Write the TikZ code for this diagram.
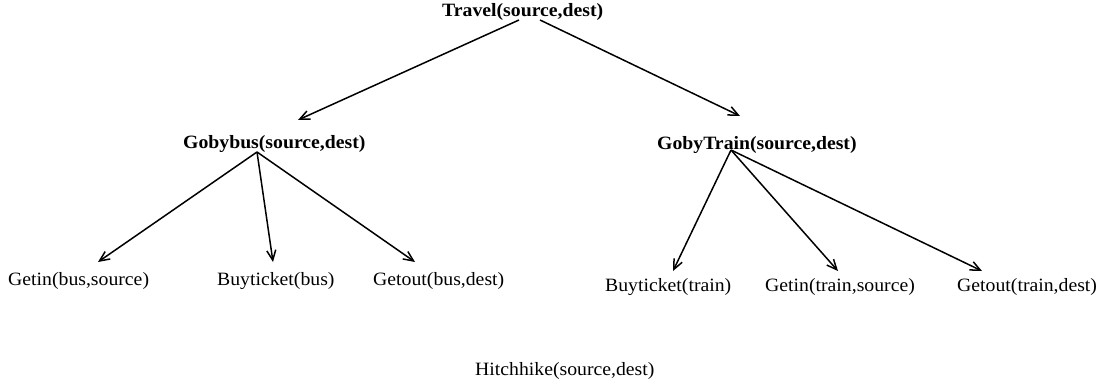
\documentclass[tikz,border=0pt]{standalone}
\usepackage{fontspec}
\setmainfont{Liberation Serif}[FakeStretch=1.05]
\usetikzlibrary{arrows.meta,calc}
\tikzset{
  lbl/.style={inner sep=0pt, anchor=base west, font=\fontsize{18.8}{22}\selectfont},
  blbl/.style={lbl, font=\fontsize{18.8}{22}\selectfont\bfseries},
  edge/.style={line width=1.5pt, -{Straight Barb[length=10pt,width=9pt,line width=1.5pt]}}
}
\begin{document}
\begin{tikzpicture}[x=1pt,y=-1pt]
\useasboundingbox (0,0) rectangle (1105,382);
\node[blbl] (travel) at (442,17) {Travel(source,dest)};
\node[blbl] (bus) at (183,149) {Gobybus(source,dest)};
\node[blbl] (train) at (657,150) {GobyTrain(source,dest)};
\node[lbl] (getinbus) at (8,285) {Getin(bus,source)};
\node[lbl] (buybus) at (217,285) {Buyticket(bus)};
\node[lbl] (getoutbus) at (373,285) {Getout(bus,dest)};
\node[lbl] (buytrain) at (605,291) {Buyticket(train)};
\node[lbl] (getintrain) at (765,291) {Getin(train,source)};
\node[lbl] (getouttrain) at (957,291) {Getout(train,dest)};
\node[lbl] (hitch) at (475,375) {Hitchhike(source,dest)};
\draw[edge] ($(travel.base west)+(77,3)$) -- ($(bus.base west)+(115,-29)$);
\draw[edge] ($(travel.base west)+(98,3)$) -- ($(train.base west)+(83,-34)$);
\draw[edge] ($(bus.base west)+(74,3)$) -- ($(getinbus.base west)+(90,-23)$);
\draw[edge] ($(bus.base west)+(74,3)$) -- ($(buybus.base west)+(56,-23)$);
\draw[edge] ($(bus.base west)+(74,3)$) -- ($(getoutbus.base west)+(42,-23)$);
\draw[edge] ($(train.base west)+(74,0)$) -- ($(buytrain.base west)+(68,-20)$);
\draw[edge] ($(train.base west)+(74,0)$) -- ($(getintrain.base west)+(73,-20)$);
\draw[edge] ($(train.base west)+(74,0)$) -- ($(getouttrain.base west)+(25,-20)$);
\end{tikzpicture}
\end{document}
